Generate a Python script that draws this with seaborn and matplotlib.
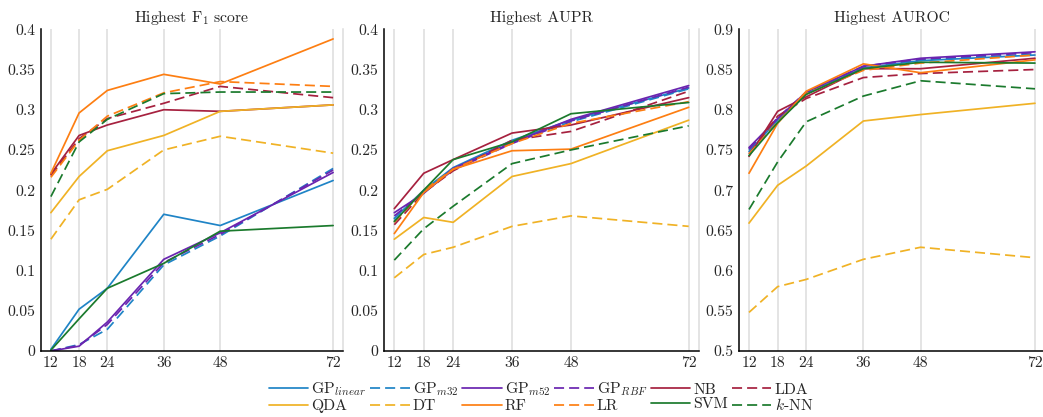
import matplotlib
matplotlib.use("Agg")
import matplotlib.pyplot as plt
import numpy as np
import pandas as pd
import seaborn as sns

# Prediction horizons (hours)
horizons = [12, 18, 24, 36, 48, 72]

models = ["GP_linear", "GP_m32", "GP_m52", "GP_RBF", "NB", "LDA",
          "QDA", "DT", "RF", "LR", "SVM", "kNN"]
model_labels = {
    "GP_linear": r"GP$_{linear}$", "GP_m32": r"GP$_{m32}$",
    "GP_m52": r"GP$_{m52}$", "GP_RBF": r"GP$_{RBF}$",
    "NB": "NB", "LDA": "LDA", "QDA": "QDA", "DT": "DT",
    "RF": "RF", "LR": "LR", "SVM": "SVM", "kNN": r"$k$-NN",
}

# Highest F1 score
f1_gp_linear = [0.002, 0.052, 0.078, 0.170, 0.156, 0.212]
f1_gp_m32 = [0.000, 0.008, 0.027, 0.107, 0.143, 0.227]
f1_gp_m52 = [0.000, 0.006, 0.036, 0.114, 0.147, 0.222]
f1_gp_rbf = [0.000, 0.007, 0.033, 0.110, 0.145, 0.225]
f1_nb = [0.220, 0.268, 0.281, 0.300, 0.298, 0.306]
f1_lda = [0.218, 0.264, 0.289, 0.308, 0.329, 0.315]
f1_qda = [0.172, 0.217, 0.249, 0.268, 0.298, 0.306]
f1_dt = [0.139, 0.188, 0.201, 0.250, 0.267, 0.246]
f1_rf = [0.221, 0.296, 0.324, 0.344, 0.332, 0.388]
f1_lr = [0.216, 0.262, 0.292, 0.321, 0.335, 0.329]
f1_svm = [0.001, 0.040, 0.078, 0.109, 0.149, 0.156]
f1_knn = [0.192, 0.260, 0.288, 0.320, 0.322, 0.322]

# Highest AUPR
aupr_gp_linear = [0.165, 0.200, 0.228, 0.262, 0.287, 0.327]
aupr_gp_m32 = [0.162, 0.199, 0.226, 0.260, 0.285, 0.326]
aupr_gp_m52 = [0.172, 0.196, 0.227, 0.259, 0.288, 0.330]
aupr_gp_rbf = [0.168, 0.197, 0.225, 0.258, 0.286, 0.328]
aupr_nb = [0.177, 0.221, 0.238, 0.271, 0.281, 0.315]
aupr_lda = [0.157, 0.197, 0.224, 0.262, 0.273, 0.323]
aupr_qda = [0.139, 0.166, 0.160, 0.217, 0.233, 0.287]
aupr_dt = [0.091, 0.120, 0.129, 0.155, 0.168, 0.155]
aupr_rf = [0.146, 0.197, 0.226, 0.249, 0.251, 0.303]
aupr_lr = [0.160, 0.200, 0.226, 0.258, 0.283, 0.310]
aupr_svm = [0.161, 0.200, 0.238, 0.260, 0.295, 0.309]
aupr_knn = [0.113, 0.152, 0.180, 0.233, 0.250, 0.280]

# Highest AUROC
auroc_gp_linear = [0.748, 0.787, 0.820, 0.852, 0.861, 0.868]
auroc_gp_m32 = [0.750, 0.788, 0.821, 0.853, 0.862, 0.869]
auroc_gp_m52 = [0.753, 0.789, 0.822, 0.854, 0.864, 0.872]
auroc_gp_rbf = [0.751, 0.790, 0.822, 0.854, 0.863, 0.871]
auroc_nb = [0.742, 0.798, 0.816, 0.851, 0.851, 0.864]
auroc_lda = [0.745, 0.792, 0.814, 0.840, 0.845, 0.850]
auroc_qda = [0.659, 0.706, 0.730, 0.786, 0.794, 0.808]
auroc_dt = [0.548, 0.580, 0.589, 0.614, 0.629, 0.616]
auroc_rf = [0.721, 0.783, 0.823, 0.857, 0.846, 0.862]
auroc_lr = [0.745, 0.785, 0.820, 0.849, 0.858, 0.868]
auroc_svm = [0.743, 0.784, 0.819, 0.851, 0.859, 0.858]
auroc_knn = [0.676, 0.735, 0.785, 0.817, 0.836, 0.826]

f1_ticks = [0, 0.05, 0.1, 0.15, 0.2, 0.25, 0.3, 0.35, 0.4]
f1_ticklabels = ["0", "0.05", "0.1", "0.15", "0.2", "0.25", "0.3", "0.35", "0.4"]
auroc_ticks = [0.5, 0.55, 0.6, 0.65, 0.7, 0.75, 0.8, 0.85, 0.9]
auroc_ticklabels = ["0.5", "0.55", "0.6", "0.65", "0.7", "0.75", "0.8", "0.85", "0.9"]

panels = [
    ("Highest F$_1$ score",
     [f1_gp_linear, f1_gp_m32, f1_gp_m52, f1_gp_rbf, f1_nb, f1_lda,
      f1_qda, f1_dt, f1_rf, f1_lr, f1_svm, f1_knn],
     (0, 0.4), f1_ticks, f1_ticklabels),
    ("Highest AUPR",
     [aupr_gp_linear, aupr_gp_m32, aupr_gp_m52, aupr_gp_rbf, aupr_nb, aupr_lda,
      aupr_qda, aupr_dt, aupr_rf, aupr_lr, aupr_svm, aupr_knn],
     (0, 0.4), f1_ticks, f1_ticklabels),
    ("Highest AUROC",
     [auroc_gp_linear, auroc_gp_m32, auroc_gp_m52, auroc_gp_rbf, auroc_nb, auroc_lda,
      auroc_qda, auroc_dt, auroc_rf, auroc_lr, auroc_svm, auroc_knn],
     (0.5, 0.9), auroc_ticks, auroc_ticklabels),
]

blue = "#1f84c6"
purple = "#6a25b0"
crimson = "#a6213f"
yellow = "#f0b225"
orange = "#fd7e12"
green = "#1b7a2d"
palette = {
    model_labels["GP_linear"]: blue, model_labels["GP_m32"]: blue,
    model_labels["GP_m52"]: purple, model_labels["GP_RBF"]: purple,
    "NB": crimson, "LDA": crimson, "QDA": yellow, "DT": yellow,
    "RF": orange, "LR": orange, "SVM": green, model_labels["kNN"]: green,
}
dash = (5.8, 2.9)
dashes = {
    model_labels["GP_linear"]: "", model_labels["GP_m32"]: dash,
    model_labels["GP_m52"]: "", model_labels["GP_RBF"]: dash,
    "NB": "", "LDA": dash, "QDA": "", "DT": dash,
    "RF": "", "LR": dash, "SVM": "", model_labels["kNN"]: dash,
}
order = [model_labels[m] for m in models]

sns.set_theme(style="white")
plt.rcParams["font.family"] = "serif"
plt.rcParams["font.serif"] = ["cmr10", "DejaVu Serif"]
plt.rcParams["mathtext.fontset"] = "cm"
plt.rcParams["axes.formatter.use_mathtext"] = True
plt.rcParams["axes.unicode_minus"] = False

FS = 11.3
W, H = 1043, 417
fig = plt.figure(figsize=(W / 100, H / 100), dpi=100)

# axes spans in pixels (left, right)
spans = [(41, 343), (384, 699), (739, 1045)]
top_px, bottom_px = 29.3, 351

handles, labels = None, None
for i, ((title, series, ylim, yt, ytl), (l, r)) in enumerate(zip(panels, spans)):
    ax = fig.add_axes([l / W, (H - bottom_px) / H, (r - l) / W, (bottom_px - top_px) / H])
    rows = []
    for m, vals in zip(models, series):
        for h, v in zip(horizons, vals):
            rows.append({"horizon": h, "score": v, "model": model_labels[m]})
    df = pd.DataFrame(rows)
    sns.lineplot(data=df, x="horizon", y="score", hue="model", style="model",
                 hue_order=order, style_order=order, palette=palette,
                 dashes=dashes, linewidth=1.25, ax=ax, legend="full")
    if handles is None:
        handles, labels = ax.get_legend_handles_labels()
    ax.get_legend().remove()

    ax.set_xlim(9.9, 74.1)
    ax.set_ylim(*ylim)
    ax.set_xticks(horizons)
    ax.set_xticklabels([str(h) for h in horizons])
    ax.set_yticks(yt)
    ax.set_yticklabels(ytl)
    ax.set_xlabel("")
    ax.set_ylabel("")
    ax.set_title(title, fontsize=FS, pad=5)
    ax.tick_params(axis="both", length=0, labelsize=FS)
    ax.tick_params(axis="x", pad=4)
    ax.tick_params(axis="y", pad=4)
    ax.grid(axis="x", color="#dcdcdc", linewidth=1.1)
    ax.grid(axis="y", visible=False)
    ax.set_axisbelow(True)
    for side in ("left", "bottom"):
        ax.spines[side].set_color("black")
        ax.spines[side].set_linewidth(1.1)
    ax.spines["top"].set_visible(False)
    ax.spines["right"].set_color("#dcdcdc")
    ax.spines["right"].set_linewidth(1.1)

# legend laid out row by row in two rows of six
idx = {lab: k for k, lab in enumerate(labels)}
row1 = order[:6]
row2 = order[6:]
leg_order = [lab for pair in zip(row1, row2) for lab in pair]
fig.legend([handles[idx[lab]] for lab in leg_order], leg_order,
           loc="center", bbox_to_anchor=(541 / W, 0.048), ncol=6, frameon=False,
           fontsize=FS, handlelength=2.5, handletextpad=0.2,
           columnspacing=0.25, labelspacing=0.05, borderpad=0.1)

fig.savefig("out.png", dpi=100)
